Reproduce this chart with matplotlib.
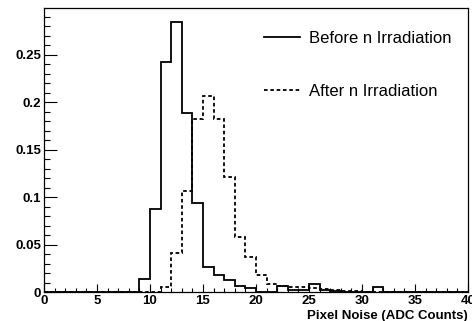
import matplotlib
matplotlib.use('Agg')
from matplotlib import pyplot as plt
from matplotlib.ticker import MultipleLocator
import numpy as np

# histogram bin edges: 40 bins of 1 ADC count
edges = np.arange(0, 41, 1)

# before irradiation (solid)
before = [0, 0, 0, 0, 0, 0, 0, 0, 0, 0.014,
          0.087, 0.242, 0.284, 0.188, 0.094, 0.026, 0.0175, 0.0125, 0.0065, 0.0045,
          0.0005, 0.0005, 0.006, 0.002, 0.002, 0.0085, 0.002, 0.001, 0, 0,
          0, 0.0056, 0, 0, 0, 0, 0, 0, 0, 0]

# after irradiation (dashed)
after = [0, 0, 0, 0, 0, 0, 0, 0, 0, 0,
         0, 0.005, 0.041, 0.106, 0.182, 0.206, 0.182, 0.121, 0.058, 0.0365,
         0.018, 0.0084, 0.006, 0.005, 0.005, 0.004, 0.003, 0.002, 0.001, 0.001,
         0.0005, 0.0005, 0.0005, 0.0005, 0.0005, 0, 0, 0, 0, 0]

ytick_vals = [0, 0.05, 0.1, 0.15, 0.2, 0.25]
ytick_labels = ['0', '0.05', '0.1', '0.15', '0.2', '0.25']
xtick_vals = [0, 5, 10, 15, 20, 25, 30, 35, 40]

plt.rcParams['font.family'] = ['Liberation Sans', 'DejaVu Sans']

fig = plt.figure(figsize=(4.72, 3.21), dpi=100)
ax = fig.add_axes([0.0932, 0.0903, 0.8983, 0.8847])

ax.stairs(before, edges, color='black', linewidth=1.3, label='Before n Irradiation')
ax.stairs(after, edges, color='black', linewidth=1.3, linestyle=(0, (2, 1.5)),
          label='After n Irradiation')

ax.set_xlim(0, 40)
ax.set_ylim(0, 0.299)

ax.set_xticks(xtick_vals)
ax.set_xticklabels([str(v) for v in xtick_vals], fontweight='bold', fontsize=9.5)
ax.xaxis.set_minor_locator(MultipleLocator(1))
ax.set_yticks(ytick_vals)
ax.set_yticklabels(ytick_labels, fontweight='bold', fontsize=9.5)
ax.yaxis.set_minor_locator(MultipleLocator(0.01))

ax.tick_params(axis='x', which='major', direction='in', length=5.8, width=0.8, pad=2)
ax.tick_params(axis='x', which='minor', direction='in', length=2.9, width=0.8)
ax.tick_params(axis='y', which='major', direction='in', length=9.4, width=0.8, pad=2)
ax.tick_params(axis='y', which='minor', direction='in', length=4.3, width=0.8)
for s in ax.spines.values():
    s.set_linewidth(0.9)

ax.set_xlabel('Pixel Noise (ADC Counts)', fontweight='bold', fontsize=9.5)
ax.xaxis.set_label_coords(1.0, -0.065)
ax.xaxis.label.set_horizontalalignment('right')

ax.legend(loc='upper right', bbox_to_anchor=(0.96, 0.919), frameon=False, fontsize=12,
          handlelength=2.15, handletextpad=0.5, labelspacing=2.25,
          borderaxespad=0, borderpad=0)

plt.savefig('out.png', dpi=100)
plt.close()
